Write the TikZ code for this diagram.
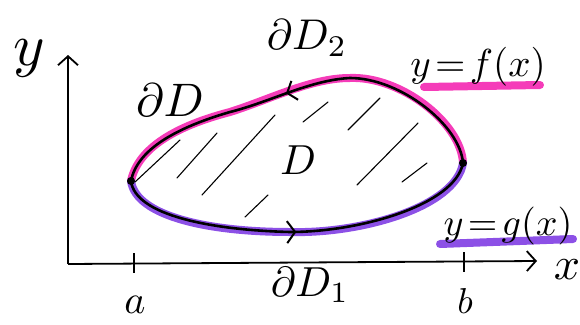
\documentclass[tikz,border=0pt]{standalone}
\usepackage{graphicx}
\usetikzlibrary{arrows.meta,decorations.markings}
\definecolor{hlpink}{RGB}{245,60,185}
\definecolor{hlpurple}{RGB}{140,80,230}
\newcommand{\sclbl}[2]{\scalebox{#1}{$#2$}}
\tikzset{
  axis/.style={line width=1.8pt,-{Straight Barb[length=9pt,width=20pt,line width=1.8pt]}},
  tickline/.style={line width=2.2pt},
  boundary/.style={line width=2.6pt,line join=round,line cap=round},
  hlup/.style={line width=8pt,hlpink,line cap=round},
  hldown/.style={line width=8pt,hlpurple,line cap=round},
  hatch/.style={line width=1.1pt,line cap=round},
  lbl/.style={inner sep=0pt},
  dot/.style={circle,fill=black,inner sep=0pt,minimum size=8pt},
}
\begin{document}
\begin{tikzpicture}[x=1pt,y=-1pt]
\useasboundingbox (0,0) rectangle (580,324);
% axes
\coordinate (O) at (68,264);
\coordinate (Ytip) at (68,55);
\coordinate (Xtip) at (537,261);
\draw[axis] (O) -- (Ytip);
\draw[axis] (O) -- (Xtip);
\coordinate (Atop) at (134,253); \coordinate (Abot) at (134,273);
\coordinate (Btop) at (464,252); \coordinate (Bbot) at (464,272);
\draw[tickline] (Atop) -- (Abot);
\draw[tickline] (Btop) -- (Bbot);
% boundary points
\coordinate (L) at (131,181);
\coordinate (R) at (463,163);
\coordinate (U1) at (230,112);
\coordinate (U2) at (350,78);
\coordinate (D1) at (290,232);
% highlights (slightly offset)
\begin{scope}[shift={(1,-2)}]
\draw[hlup] (L) .. controls (137,150) and (175,128) .. (U1)
  .. controls (270,101) and (310,80) .. (U2)
  .. controls (400,78) and (460,125) .. (R);
\end{scope}
\begin{scope}[shift={(1,2)}]
\draw[hldown] (L) .. controls (135,215) and (210,230) .. (D1)
  .. controls (360,232) and (455,205) .. (R);
\end{scope}
\coordinate (Ful) at (424,87); \coordinate (Fur) at (540,85);
\coordinate (Gul) at (440,244); \coordinate (Gur) at (573,239);
\draw[hlup] (Ful) -- (Fur);
\draw[hldown] (Gul) -- (Gur);
% boundary curves
\draw[boundary,postaction={decorate},decoration={markings,mark=at position 0.46 with {\arrowreversed{Straight Barb[length=8pt,width=20pt,line width=2pt]}}}]
  (L) .. controls (137,150) and (175,128) .. (U1)
  .. controls (270,102) and (310,80) .. (U2)
  .. controls (400,78) and (460,125) .. (R);
\draw[boundary,postaction={decorate},decoration={markings,mark=at position 0.49 with {\arrow{Straight Barb[length=8pt,width=22pt,line width=2pt]}}}]
  (L) .. controls (135,215) and (210,230) .. (D1)
  .. controls (360,232) and (455,205) .. (R);
\node[dot] (Ldot) at (L) {};
\node[dot] (Rdot) at (R) {};
% hatching
\draw[hatch] (135,182) -- (180,140);
\draw[hatch] (177,178) -- (217,133);
\draw[hatch] (202,195) -- (275,115);
\draw[hatch] (245,217) -- (268,195);
\draw[hatch] (303,122) -- (328,102);
\draw[hatch] (348,130) -- (380,98);
\draw[hatch] (357,185) -- (418,123);
\draw[hatch] (402,182) -- (427,163);
% labels
\node[lbl] (ylab) at (29,58) {\sclbl{6}{y}};
\node[lbl] (xlab) at (567,270) {\sclbl{4.6}{x}};
\node[lbl] (alab) at (135,305) {\sclbl{4}{a}};
\node[lbl] (blab) at (465,301) {\sclbl{3.6}{b}};
\node[lbl] (dD2) at (307,38) {\sclbl{4.3}{\partial D_2}};
\node[lbl] (dD) at (170,100) {\sclbl{4.7}{\partial D}};
\node[lbl] (Dlab) at (298,160) {\sclbl{4.2}{D}};
\node[lbl] (dD1) at (310,285) {\sclbl{4.2}{\partial D_1}};
\node[lbl] (flab) at (478,67) {\sclbl{3.9}{y\!=\!f(x)}};
\node[lbl] (glab) at (508,226) {\sclbl{3.8}{y\!=\!g(x)}};
\end{tikzpicture}
\end{document}
